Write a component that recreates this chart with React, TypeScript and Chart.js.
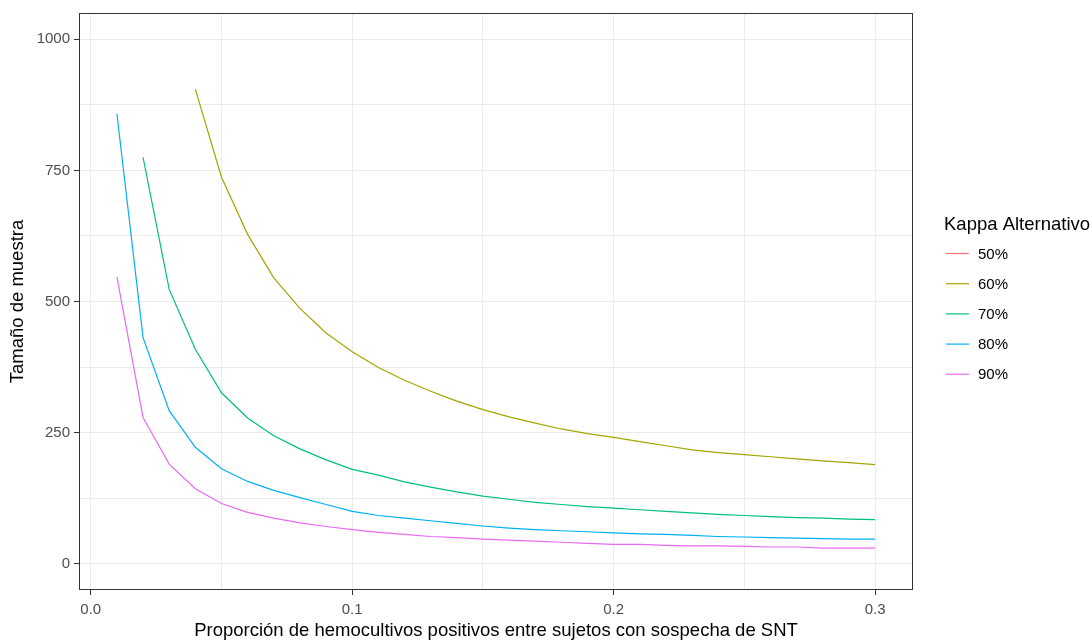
import React, { useEffect, useRef } from "react";
import { Chart, registerables } from "chart.js";

Chart.register(...registerables);

const xValues = [0.01, 0.02, 0.03, 0.04, 0.05, 0.06, 0.07, 0.08, 0.09, 0.1, 0.11, 0.12, 0.13, 0.14, 0.15, 0.16, 0.17, 0.18, 0.19, 0.2, 0.21, 0.22, 0.23, 0.24, 0.25, 0.26, 0.27, 0.28, 0.29, 0.3];

const kappa50: (number | null)[] = [null, null, null, null, null, null, null, null, null, null, null, null, null, null, null, null, null, null, null, null, null, null, null, null, null, null, null, null, null, null];
const kappa60: (number | null)[] = [null, null, null, 905, 737, 628, 545, 487, 440, 404, 374, 350, 329, 310, 294, 280, 268, 257, 248, 241, 233, 225, 217, 212, 208, 204, 200, 196, 193, 189];
const kappa70: (number | null)[] = [null, 775, 523, 409, 326, 278, 244, 219, 198, 180, 169, 156, 146, 137, 129, 123, 117, 113, 109, 106, 103, 100, 97, 94, 92, 90, 88, 87, 85, 84];
const kappa80: (number | null)[] = [858, 431, 292, 222, 181, 157, 140, 126, 113, 100, 92, 87, 82, 77, 72, 68, 65, 63, 61, 59, 57, 56, 54, 52, 51, 50, 49, 48, 47, 47];
const kappa90: (number | null)[] = [547, 279, 190, 143, 115, 98, 87, 78, 71, 65, 60, 56, 52, 50, 47, 45, 43, 41, 39, 37, 37, 35, 34, 34, 33, 32, 32, 30, 30, 30];

const seriesLabels = ["50%", "60%", "70%", "80%", "90%"];
const seriesColors = ["#F8766D", "#A3A500", "#00BF7D", "#00B0F6", "#E76BF3"];
const seriesData = [kappa50, kappa60, kappa70, kappa80, kappa90];

const xTickValues = [0, 0.05, 0.1, 0.15, 0.2, 0.25, 0.3];
const yTickValues = [0, 125, 250, 375, 500, 625, 750, 875, 1000];

const xTitle = "Proporción de hemocultivos positivos entre sujetos con sospecha de SNT";
const yTitle = "Tamaño de muestra";
const legendTitle = "Kappa Alternativo";

const FONT = "'Liberation Sans', Arial, sans-serif";

const isMajorX = (v: number) => Math.abs(v * 10 - Math.round(v * 10)) < 1e-9;
const isMajorY = (v: number) => Math.abs(v / 250 - Math.round(v / 250)) < 1e-9;

export default function App() {
  const ref = useRef<HTMLCanvasElement | null>(null);

  useEffect(() => {
    if (!ref.current) return;

    const decor = {
      id: "decor",
      afterDatasetsDraw(chart: any) {
        const { ctx, chartArea } = chart;
        const { left, right, top, bottom } = chartArea;
        ctx.save();
        ctx.strokeStyle = "#333333";
        ctx.lineWidth = 1;
        ctx.strokeRect(left + 0.5, top + 0.5, right - left - 1, bottom - top - 1);
        ctx.restore();
      },
      afterDraw(chart: any) {
        const { ctx, chartArea } = chart;
        const { left, right, top, bottom } = chartArea;
        ctx.save();
        ctx.fillStyle = "#000000";
        ctx.font = `18.5px ${FONT}`;
        ctx.textAlign = "center";
        ctx.textBaseline = "middle";
        ctx.fillText(xTitle, (left + right) / 2, 631);
        ctx.save();
        ctx.translate(18, (top + bottom) / 2);
        ctx.rotate(-Math.PI / 2);
        ctx.fillText(yTitle, 0, 0);
        ctx.restore();

        ctx.textAlign = "left";
        ctx.fillText(legendTitle, 944, 225);
        ctx.font = `15px ${FONT}`;
        chart.data.datasets.forEach((ds: any, i: number) => {
          const y = 253.5 + i * 30.2;
          ctx.strokeStyle = ds.borderColor;
          ctx.lineWidth = 1.2;
          ctx.beginPath();
          ctx.moveTo(946, y);
          ctx.lineTo(969, y);
          ctx.stroke();
          ctx.fillStyle = "#000000";
          ctx.fillText(ds.label, 978, y + 1);
        });
        ctx.restore();
      },
    };

    const chart = new Chart(ref.current, {
      type: "line",
      data: {
        datasets: seriesLabels.map((label, i) => ({
          label,
          data: xValues.map((x, j) => ({ x, y: seriesData[i][j] })),
          borderColor: seriesColors[i],
          backgroundColor: seriesColors[i],
          borderWidth: 1.2,
          pointRadius: 0,
          tension: 0,
          spanGaps: false,
        })),
      },
      options: {
        responsive: false,
        animation: false,
        layout: { padding: { top: 11, right: 179, left: 0, bottom: 0 } },
        plugins: {
          legend: { display: false },
          tooltip: { enabled: false },
        },
        scales: {
          x: {
            type: "linear",
            min: -0.0045,
            max: 0.3145,
            afterBuildTicks: (scale: any) => {
              scale.ticks = xTickValues.map((v) => ({ value: v }));
            },
            afterFit: (scale: any) => {
              scale.height = 51;
            },
            border: { display: false },
            grid: {
              color: "#ebebeb",
              lineWidth: 1,
              drawTicks: true,
              tickLength: 5,
              tickColor: (c: any) => (isMajorX(c.tick.value) ? "#333333" : "rgba(0,0,0,0)"),
              tickWidth: 1,
            },
            ticks: {
              autoSkip: false,
              maxRotation: 0,
              padding: 6,
              color: "#4d4d4d",
              font: { family: FONT, size: 15 },
              callback: (v: any) => (isMajorX(Number(v)) ? Number(v).toFixed(1) : ""),
            },
          },
          y: {
            type: "linear",
            min: -50,
            max: 1050,
            afterBuildTicks: (scale: any) => {
              scale.ticks = yTickValues.map((v) => ({ value: v }));
            },
            afterFit: (scale: any) => {
              scale.width = 79;
            },
            border: { display: false },
            grid: {
              color: "#ebebeb",
              lineWidth: 1,
              drawTicks: true,
              tickLength: 5,
              tickColor: (c: any) => (isMajorY(c.tick.value) ? "#333333" : "rgba(0,0,0,0)"),
              tickWidth: 1,
            },
            ticks: {
              autoSkip: false,
              padding: 4,
              color: "#4d4d4d",
              font: { family: FONT, size: 15 },
              callback: (v: any) => (isMajorY(Number(v)) ? String(v) : ""),
            },
          },
        },
      },
      plugins: [decor],
    });

    return () => chart.destroy();
  }, []);

  return (
    <div style={{ position: "fixed", left: 0, top: 0, width: 1092, height: 641, background: "#ffffff" }}>
      <canvas ref={ref} width={1092} height={641} style={{ display: "block" }} />
    </div>
  );
}
